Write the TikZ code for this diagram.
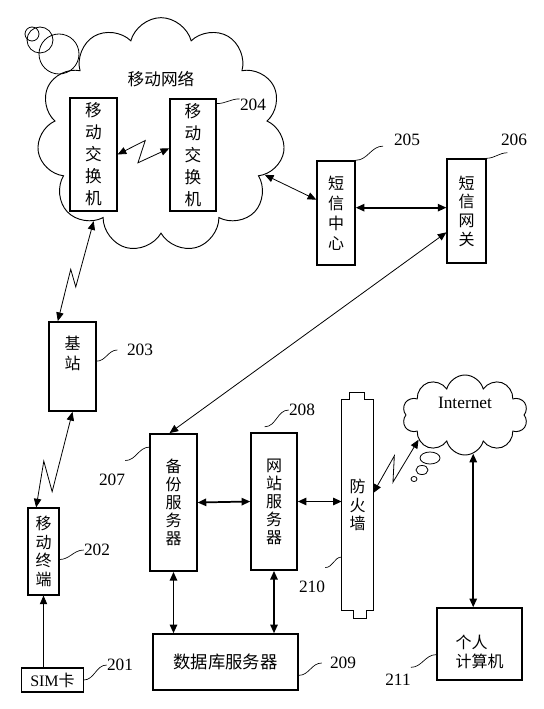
\documentclass[tikz,border=0pt]{standalone}
\usepackage{fontspec}
\setmainfont{Liberation Serif}
\newfontfamily\cjk{Noto Sans CJK SC}
\usetikzlibrary{shapes.symbols,calc,arrows.meta}

\tikzset{
	box/.style={draw, line width=1.1pt, fill=white, inner sep=0pt, align=center, font=\cjk\fontsize{12}{14}\selectfont},
	num/.style={font=\fontsize{13}{13}\selectfont, inner sep=0pt},
	lead/.style={line width=0.5pt},
	link/.style={line width=0.6pt, >={Triangle[length=6.5pt,width=5.5pt]}},
	bold link/.style={link, line width=1.3pt},
	zz/.style n args={3}{to path={-- ($(\tikztostart)!#2!(\tikztotarget)!#1!90:(\tikztotarget)$) -- ($(\tikztostart)!#3!(\tikztotarget)!#1!-90:(\tikztotarget)$) -- (\tikztotarget) \tikztonodes}}
}

\begin{document}
\begin{tikzpicture}[x=0.75pt, y=-0.75pt]
		\useasboundingbox (0,0) rectangle (543,709);
		
		% mobile network
		\node[cloud, cloud puffs=11, draw, line width=0.7pt, minimum width=186pt, minimum height=176pt,
			label={[font=\cjk\fontsize{12.5}{14}\selectfont, yshift=42pt]center:移动网络}] (net) at (161,135) {};
		\draw[line width=0.6pt] (32,34) circle[radius=5.25pt] (40,40) circle[radius=9.75pt] (59,54) circle[radius=15pt];
		
		\node[box, minimum width=35pt, minimum height=85pt, font=\cjk\fontsize{12.5}{16.5}\selectfont] (sw1) at (93.5,154.5) {移\\动\\交\\换\\机};
		\node[box, minimum width=34.5pt, minimum height=84pt, font=\cjk\fontsize{12.5}{16.5}\selectfont] (sw2) at (193,155) {移\\动\\交\\换\\机};
		\node[box, minimum width=28.5pt, minimum height=78pt, font=\cjk\fontsize{12}{15}\selectfont] (smsc) at (336,213) {短\\信\\中\\心};
		\node[box, minimum width=29pt, minimum height=78pt] (gw) at (466.5,211) {短\\信\\网\\关};
		\node[box, minimum width=35pt, minimum height=67pt,
			label={[align=center, font=\cjk\fontsize{12}{15}\selectfont, yshift=10pt]center:{基\\站}}] (bs) at (72.5,366.5) {};
		\node[box, minimum width=23pt, minimum height=65pt] (mt) at (43.5,551.5) {移\\动\\终\\端};
		\node[box, line width=0.8pt, minimum width=46pt, minimum height=18pt, font=\fontsize{12}{12}\selectfont] (sim) at (52.5,680) {SIM{\cjk 卡}};
		
		\node[box, minimum width=35pt, minimum height=103pt, font=\cjk\fontsize{12}{13.5}\selectfont] (bak) at (173.5,502.5) {备\\份\\服\\务\\器};
		\node[box, minimum width=34.5pt, minimum height=103pt, font=\cjk\fontsize{12}{13.5}\selectfont] (web) at (274,501.5) {网\\站\\服\\务\\器};
		\node[box, minimum width=109pt, minimum height=42pt, font=\cjk\fontsize{13}{13}\selectfont] (db) at (225.5,662) {数据库服务器};
		\node[box, minimum width=64pt, minimum height=54pt,
			label={[align=left, font=\cjk\fontsize{12}{14}\selectfont, yshift=-6pt]center:{个人\\计算机}}] (pc) at (479.5,644) {};
		
		% firewall
		\node[inner sep=0pt, minimum width=23.25pt, minimum height=157.5pt, align=center, font=\cjk\fontsize{12}{14}\selectfont] (fw) at (357.5,505) {防\\火\\墙};
		\draw[line width=1.1pt] (fw.north west) -- ++(8,0) -- ++(0,-7) -- ++(15,0) -- ++(0,7) -- (fw.north east)
			-- (fw.south east) -- ++(-7,0) -- ++(0,8) -- ++(-13,0) -- ++(0,-8) -- (fw.south west) -- cycle;
		
		% internet
		\node[cloud, cloud puffs=10, draw, line width=0.7pt, minimum width=94pt, minimum height=60pt,
			label={[font=\fontsize{13}{13}\selectfont, yshift=9pt]center:Internet}] (inet) at (465,415) {};
		\draw[line width=0.6pt] (430,458) ellipse[x radius=7.5pt, y radius=4.5pt] (422,470) ellipse[x radius=4.5pt, y radius=3.4pt] (414,479) ellipse[x radius=2.25pt, y radius=1.9pt];
		
		% connections
		\draw[link, <->] (sw1.east) to[zz={8pt}{0.56}{0.37}] ([yshift=5pt]sw2.west);
		\draw[link, <->] (net.-21) -- ([yshift=10pt]smsc.west);
		\draw[bold link, <->] ([yshift=4pt]smsc.east) -- ([yshift=4pt]smsc.east -| gw.west);
		\draw[link, <->] ([xshift=-3pt]bak.north) -- ([yshift=-16pt]gw.west);
		\draw[link, <->] (net.232) to[zz={4pt}{0.64}{0.5}] ([xshift=-11pt]bs.north);
		\draw[link, <->] (bs.south) to[zz={7pt}{0.8}{0.55}] ([xshift=-5.5pt]mt.north);
		\draw[link, ->] (sim.north -| mt.south) -- (mt.south);
		\draw[bold link, <->] (bak.east) -- (web.west);
		\draw[bold link, <->] (web.east) -- (web.east -| fw.west);
		\draw[bold link, <->] (bak.south) -- (bak.south |- db.north);
		\draw[bold link, <->] (web.south) -- (web.south |- db.north);
		\draw[link, <->] ([yshift=9pt]fw.east) to[zz={6pt}{0.6}{0.3}] (inet.208);
		\draw[bold link, <->] (inet.-78) -- (inet.-78 |- pc.north);
		
		% reference numbers
		\node[num] (n201) at (120,665) {201};
		\node[num] (n202) at (97,550) {202};
		\node[num] (n203) at (140,350) {203};
		\node[num] (n204) at (253,105) {204};
		\node[num] (n205) at (407,140) {205};
		\node[num] (n206) at (514,140) {206};
		\node[num] (n207) at (112,480) {207};
		\node[num] (n208) at (302,410) {208};
		\node[num] (n209) at (343,663) {209};
		\node[num] (n210) at (312,587) {210};
		\node[num] (n211) at (398,680) {211};
		
		\draw[lead] (sim.east) to[out=0,in=180] (n201.west);
		\draw[lead] ([yshift=-6pt]mt.east) to[out=0,in=180] (n202.west);
		\draw[lead] ([yshift=4pt]bs.east) to[out=0,in=180] ([xshift=-7pt]n203.west);
		\draw[lead] ([yshift=-4pt]sw2.north east) to[out=0,in=180] (n204.north west);
		\draw[lead] (smsc.north east) to[out=0,in=180] ([xshift=-8pt]n205.south west);
		\draw[lead] (gw.north east) to[out=0,in=180] ([shift={(5pt,-5pt)}]n206.south west);
		\draw[lead] ([yshift=-10.5pt]bak.north west) to[out=180,in=0] ([yshift=10pt]n207.north east);
		\draw[lead] ([shift={(-7pt,4pt)}]web.north) to[out=0,in=180] (n208.west);
		\draw[lead] ([yshift=-10pt]db.east) to[out=0,in=180] ([xshift=-6pt]n209.west);
		\draw[lead] ([yshift=-39pt]fw.west) to[out=180,in=0] ([yshift=10pt]n210.north east);
		\draw[lead] ([yshift=-8pt]pc.west) to[out=180,in=0] ([yshift=5pt]n211.north east);
		
\end{tikzpicture}
\end{document}
